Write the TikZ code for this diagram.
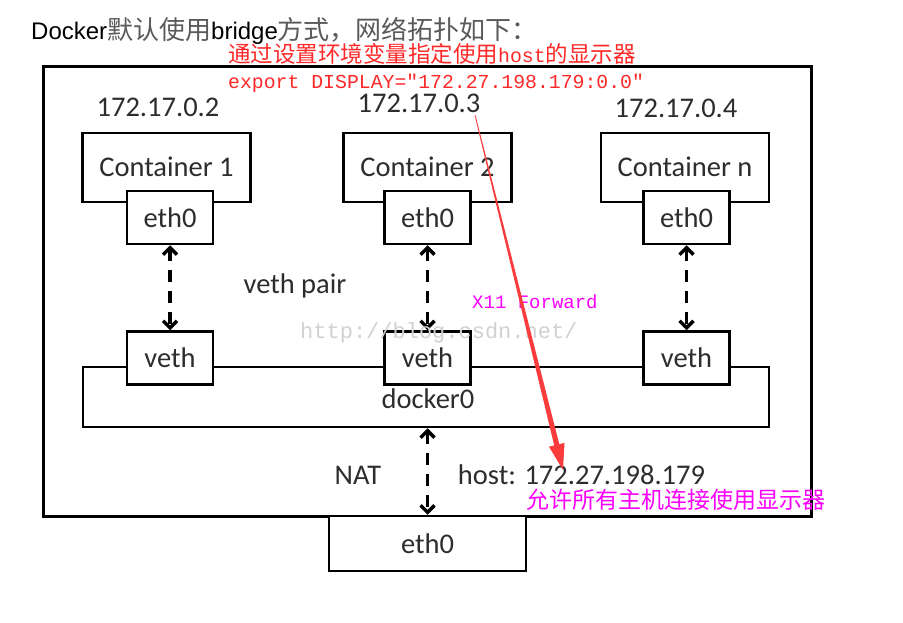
\documentclass[tikz,border=0pt]{standalone}
\usepackage{fontspec}
\setmainfont{Carlito}
\newfontfamily\cjk{Noto Sans CJK SC}
\newfontfamily\arialf{Liberation Sans}
\newfontfamily\monof{Liberation Mono}
\usepackage{xcolor}
\usetikzlibrary{arrows.meta,calc}
\definecolor{txtgray}{RGB}{45,45,45}
\definecolor{hdgray}{RGB}{90,90,90}
\definecolor{notered}{RGB}{255,40,40}
\definecolor{arrowred}{RGB}{250,60,60}
\definecolor{notemag}{RGB}{250,0,250}
\newcommand{\fs}[1]{\fontsize{#1}{#1}\selectfont}

\begin{document}
\begin{tikzpicture}[x=1pt,y=-1pt,
  ctbox/.style={draw,line width=2.5pt,fill=white,text=txtgray,font=\fs{28.5},inner sep=0pt},
  ifbox/.style={ctbox,minimum width=86pt,minimum height=53pt},
  lbl/.style={text=txtgray,font=\fs{28.5},inner sep=0pt},
  link/.style={line width=3.5pt,dash pattern=on 12pt off 9pt,{Straight Barb[length=7pt,width=14pt]}-{Straight Barb[length=7pt,width=14pt]}}]
\useasboundingbox (0,0) rectangle (903,623);

% host frame
\node[draw,line width=3pt,minimum width=768pt,minimum height=449pt,inner sep=0pt] (hostbox) at (427,291.5) {};
\node[ctbox,minimum width=197pt,minimum height=55pt] (heth) at (427.5,543.5) {eth0};

% docker0 bridge
\node[draw,line width=2.5pt,minimum width=686pt,minimum height=60pt,inner sep=0pt] (br) at (426,397) {};
\node[lbl] (brlbl) at (428,399) {docker0};

% containers
\foreach \name/\cx/\ex/\ttl in {1/166.5/170/Container 1, 2/427.5/427.5/Container 2, n/685/686.5/Container n}
{
  \node[ctbox,minimum width=168pt,minimum height=69pt] (c\name) at (\cx,167.5) {\raisebox{1pt}{\ttl}};
  \node[ifbox] (e\name) at (\ex,217.5) {eth0};
  \node[ifbox] (v\name) at (\ex,358) {veth};
  \draw[link] (e\name.south) -- (v\name.north);
}

% addresses and labels
\node[lbl] (ip1) at (158,107) {172.17.0.2};
\node[lbl] (ip2) at (419,103) {172.17.0.3};
\node[lbl] (ipn) at (676,108) {172.17.0.4};
\node[lbl] (pair) at (295,286) {veth pair};
\node[lbl] (nat) at (358,475) {NAT};
\node[lbl] (hostip) at (581.5,475) {host: 172.27.198.179};
\draw[link] (heth.north |- br.south) -- (heth.north);

% header
\node[anchor=west,inner sep=0pt] (title) at (31,31)
  {{\arialf\fs{24}Docker}{\cjk\fs{26}\color{hdgray}默认使用}{\arialf\fs{24}bridge}{\cjk\fs{26}\color{hdgray}方式，网络拓扑如下：}};

% notes
\node[anchor=west,inner sep=0pt,text=notered] (note1) at (228,54)
  {{\cjk\fs{22.5}通过设置环境变量指定使用}{\monof\fs{19.8}host}{\cjk\fs{22.5}的显示器}};
\node[anchor=west,inner sep=0pt,text=notered,font=\monof\fs{19.8}] (note2) at (228,83)
  {export DISPLAY="172.27.198.179:0.0"};
\node[anchor=west,inner sep=0pt,text=notemag,font=\monof\fs{19}] (x11) at (472,302) {X11 Forward};
\node[anchor=west,inner sep=0pt,text=notemag,font=\cjk\fs{23}] (allow) at (526,500) {允许所有主机连接使用显示器};
\node[anchor=west,inner sep=0pt,text=black!18,font=\monof\fs{22}] (wm) at (300,333) {http://blog.csdn.net/};

% forward arrow
\coordinate (rs) at (475,115);
\coordinate (re) at (563,470);
\coordinate (hb) at ($(re)!26pt!(rs)$);
\fill[arrowred] ($(rs)!0.4pt!90:(re)$) -- ($(hb)!2.6pt!-90:(rs)$) -- ($(hb)!8pt!-90:(rs)$) -- (re)
  -- ($(hb)!8pt!90:(rs)$) -- ($(hb)!2.6pt!90:(rs)$) -- ($(rs)!0.4pt!-90:(re)$) -- cycle;
\end{tikzpicture}
\end{document}
